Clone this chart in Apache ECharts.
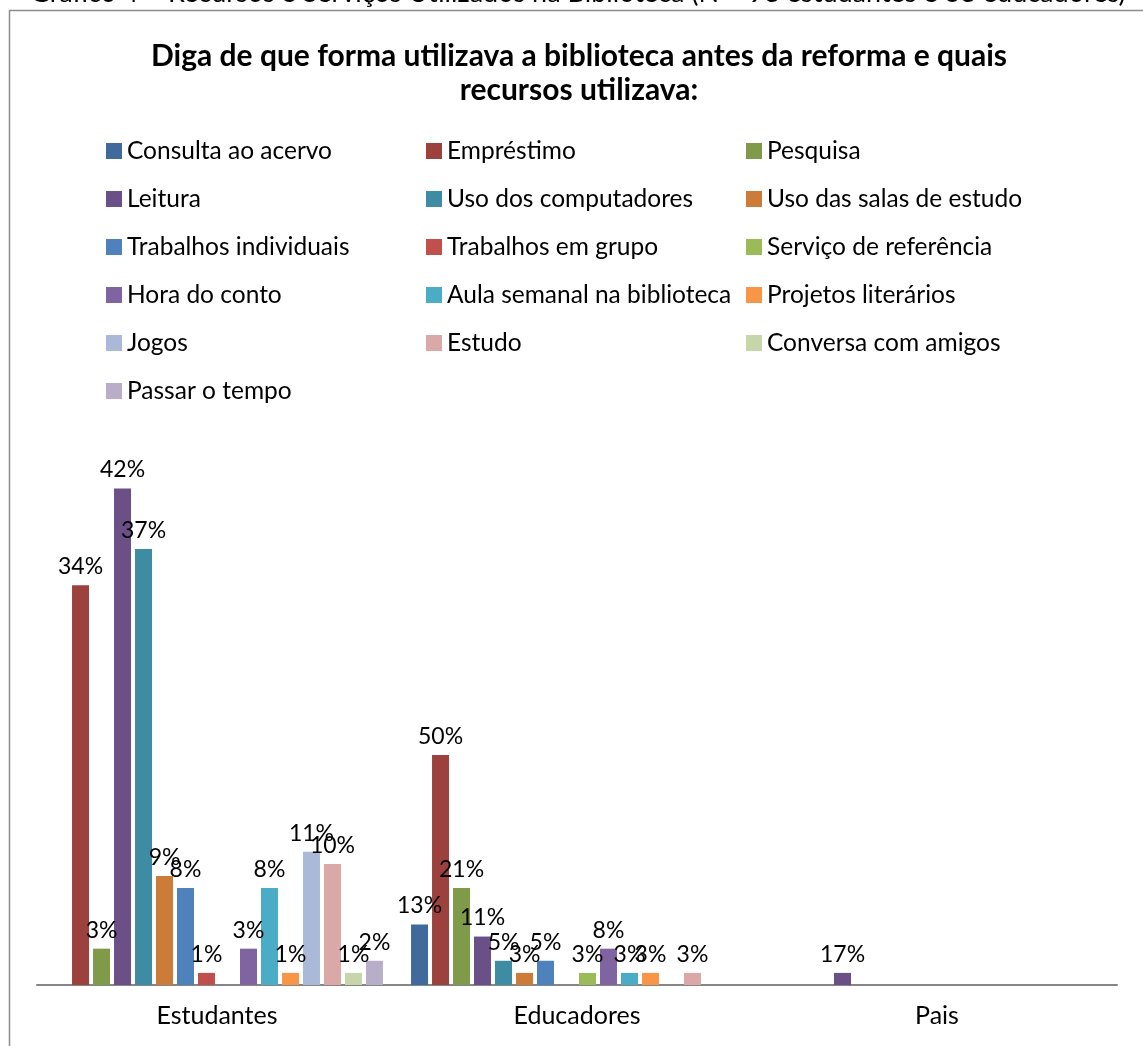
<!DOCTYPE html>
<html>
<head>
<meta charset="utf-8">
<script src="https://cdn.jsdelivr.net/npm/echarts@6/dist/echarts.min.js"></script>
<style>
html,body{margin:0;padding:0;background:#fff;}
#chart{width:1143px;height:1046px;}
</style>
</head>
<body>
<div id="chart"></div>
<script>
// ---- data ----
const categories = ['Estudantes', 'Educadores', 'Pais'];
const seriesNames = [
  'Consulta ao acervo', 'Empréstimo', 'Pesquisa',
  'Leitura', 'Uso dos computadores', 'Uso das salas de estudo',
  'Trabalhos individuais', 'Trabalhos em grupo', 'Serviço de referência',
  'Hora do conto', 'Aula semanal na biblioteca', 'Projetos literários',
  'Jogos', 'Estudo', 'Conversa com amigos',
  'Passar o tempo'
];
// bar heights (number of respondents) per category: [Estudantes, Educadores, Pais]
const consultaCounts     = [null, 5, null];
const emprestimoCounts   = [33, 19, null];
const pesquisaCounts     = [3, 8, null];
const leituraCounts      = [41, 4, 1];
const computadoresCounts = [36, 2, null];
const salasCounts        = [9, 1, null];
const trabIndCounts      = [8, 2, null];
const trabGrupoCounts    = [1, null, null];
const referenciaCounts   = [null, 1, null];
const horaContoCounts    = [3, 3, null];
const aulaCounts         = [8, 1, null];
const projetosCounts     = [1, 1, null];
const jogosCounts        = [11, null, null];
const estudoCounts       = [10, 1, null];
const conversaCounts     = [1, null, null];
const passarCounts       = [2, null, null];
// percentage labels shown on the bars
const consultaPct     = [null, 13, null];
const emprestimoPct   = [34, 50, null];
const pesquisaPct     = [3, 21, null];
const leituraPct      = [42, 11, 17];
const computadoresPct = [37, 5, null];
const salasPct        = [9, 3, null];
const trabIndPct      = [8, 5, null];
const trabGrupoPct    = [1, null, null];
const referenciaPct   = [null, 3, null];
const horaContoPct    = [3, 8, null];
const aulaPct         = [8, 3, null];
const projetosPct     = [1, 3, null];
const jogosPct        = [11, null, null];
const estudoPct       = [10, 3, null];
const conversaPct     = [1, null, null];
const passarPct       = [2, null, null];

const allCounts = [consultaCounts, emprestimoCounts, pesquisaCounts, leituraCounts,
  computadoresCounts, salasCounts, trabIndCounts, trabGrupoCounts, referenciaCounts,
  horaContoCounts, aulaCounts, projetosCounts, jogosCounts, estudoCounts,
  conversaCounts, passarCounts];
const allPct = [consultaPct, emprestimoPct, pesquisaPct, leituraPct,
  computadoresPct, salasPct, trabIndPct, trabGrupoPct, referenciaPct,
  horaContoPct, aulaPct, projetosPct, jogosPct, estudoPct,
  conversaPct, passarPct];
const colors = ['#3F6A9B', '#9D413E', '#7F9A48', '#6A5086', '#3D8CA3', '#CC7B38',
  '#4F81BD', '#C0504D', '#9BBB59', '#8064A2', '#4BACC6', '#F79646',
  '#AAB9D8', '#D9A8A7', '#C6D6AA', '#B8AECA'];

const FONT = 'Lato, "Open Sans", sans-serif';

const series = seriesNames.map((name, i) => ({
  name: name,
  type: 'bar',
  barWidth: 17,
  barGap: '23.5%',
  itemStyle: { color: colors[i] },
  data: allCounts[i].map(v => (v == null ? '-' : v)),
  label: {
    show: true,
    position: 'top',
    distance: 7,
    color: '#000',
    fontSize: 23,
    fontFamily: FONT,
    formatter: p => {
      const v = allPct[i][p.dataIndex];
      return v == null ? '' : v + '%';
    }
  }
}));

const chart = echarts.init(document.getElementById('chart'), null, { renderer: 'canvas' });
chart.setOption({
  animation: false,
  color: colors,
  textStyle: { fontFamily: FONT },
  title: {
    text: 'Diga de que forma utilizava a biblioteca antes da reforma e quais\nrecursos utilizava:',
    left: 579,
    textAlign: 'center',
    top: 39,
    padding: 0,
    textStyle: { fontSize: 30, fontWeight: 'bold', color: '#000', lineHeight: 34, fontFamily: FONT }
  },
  legend: {
    left: 106,
    top: 127,
    width: 990,
    padding: 0,
    itemWidth: 16,
    itemHeight: 16,
    itemGap: 0,
    icon: 'rect',
    selectedMode: false,
    data: seriesNames,
    textStyle: { fontSize: 24.5, color: '#000', width: 299, lineHeight: 48, overflow: 'truncate', fontFamily: FONT }
  },
  grid: { left: 37, right: 26, top: 440, bottom: 61, containLabel: false },
  xAxis: {
    type: 'category',
    data: categories,
    axisLine: { lineStyle: { color: '#868686', width: 2 } },
    axisTick: { show: false },
    axisLabel: { fontSize: 25, color: '#000', margin: 18, fontFamily: FONT }
  },
  yAxis: {
    type: 'value',
    min: 0,
    max: 45,
    show: false,
    splitLine: { show: false }
  },
  graphic: [
    {
      type: 'rect',
      left: 7, top: 8,
      shape: { width: 1200, height: 1100 },
      style: { fill: 'none', stroke: '#8C8C8C', lineWidth: 1.5 },
      z: -10, silent: true
    },
    {
      type: 'text',
      x: 578, y: 6.5,
      style: {
        text: 'Gráfico 4 – Recursos e Serviços Utilizados na Biblioteca (N = 98 estudantes e 38 educadores)',
        fill: '#000', fontSize: 27, fontFamily: FONT,
        textAlign: 'center', textVerticalAlign: 'bottom'
      },
      silent: true
    }
  ],
  series: series
});
</script>
</body>
</html>
